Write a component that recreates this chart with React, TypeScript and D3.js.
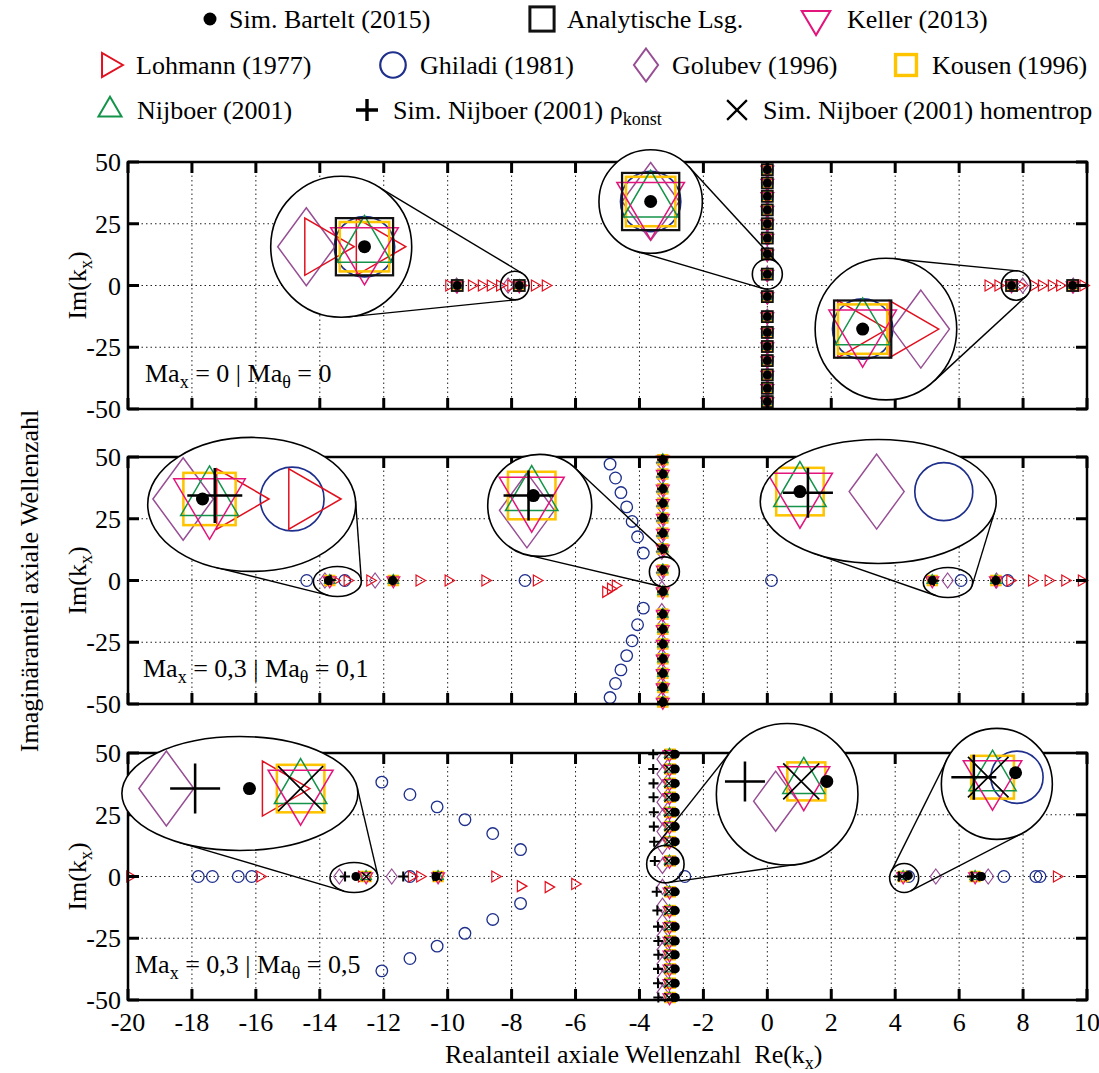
import * as React from 'react';
import * as d3 from 'd3';

const W = 1099;
const H = 1073;
const xTicks = [-20, -18, -16, -14, -12, -10, -8, -6, -4, -2, 0, 2, 4, 6, 8, 10];
const yTicks = [-50, -25, 0, 25, 50];
const machLabels = [['0', '0'], ['0,3', '0,1'], ['0,3', '0,5']];

// ---- panel 1: Ma_x = 0 | Ma_theta = 0
const p1ColRe = 0;
const p1ColIm = [46.9, 41.5, 36.1, 30.6, 25.0, 19.2, 12.8, 4.6, -4.5, -12.6, -19.0, -24.7, -30.4, -36.2, -41.6, -47.0];
const p1AxisRe = [-9.70, -7.76, 7.64, 9.55];
const p1GolubevRe = [-9.72, -8.11, 7.99, 9.57];
const p1LohmannRe = [-9.96, -9.25, -8.94, -8.66, -8.37, -8.02, -7.71, -7.28, -6.94,
  6.91, 7.22, 7.59, 7.90, 8.32, 8.58, 8.89, 9.15, 9.88];

// ---- panel 2: Ma_x = 0,3 | Ma_theta = 0,1
const p2ColIm = [48.9, 43.1, 37.1, 31.3, 25.3, 19.2, 12.8, 4.3, -4.5, -13.6, -19.7, -25.7, -31.7, -37.6, -43.3, -49.2];
const p2GolubevColIm = [47.7, 41.9, 35.9, 30.1, 24.1, 18.0, 11.6, 3.1, -3.3, -12.4, -18.5, -24.5, -30.5, -36.4, -42.1, -48.0];
const p2BarteltRe = [-13.73, -11.72, 5.16, 7.15];
const p2AxisRe = [-13.69, -11.70, 5.16, 7.15];
const p2GolubevRe = [-13.84, -12.27, 5.64, 7.17];
const p2SimRho = [[-13.66, 0.25], [-11.70, 0], [5.21, -0.1], [7.13, 0]];
const p2GhiladiRe = [-14.41, -13.22, -7.58, 0.13, 6.06, 7.52];
const p2GhiladiArc = [
  [-4.92, 47.1], [-4.75, 41.5], [-4.58, 35.6], [-4.40, 29.8], [-4.23, 23.9], [-4.06, 17.7], [-3.88, 11.1],
  [-3.88, -11.2], [-4.06, -17.9], [-4.23, -24.4], [-4.40, -30.4], [-4.58, -36.2], [-4.75, -41.7], [-4.92, -47.4],
];
const p2Lohmann = [
  [-13.55, 0], [-13.14, 0], [-12.43, 0], [-10.89, 0], [-9.98, 0], [-8.83, 0], [-7.22, 0],
  [-5.05, -4.6], [-4.90, -3.3], [-4.75, -2.0], [7.59, 0], [8.27, 0], [8.79, 0], [9.31, 0], [9.83, 0],
];

// ---- panel 3: Ma_x = 0,3 | Ma_theta = 0,5
const p3ColIm = [49.5, 43.5, 37.7, 32.1, 26.0, 20.2, 14.1, 6.3, -6.2, -13.8, -20.3, -26.1, -31.7, -37.4, -43.2, -49.0];
const p3GolubevColIm = [47.5, 41.5, 35.7, 30.1, 24.0, 18.2, 12.1, 4.3, -4.2, -11.8, -18.3, -24.1, -29.7, -35.4, -41.2, -47.0];
const p3Bartelt = [[-12.87, 0], [-10.37, 0], [4.41, 0.4], [6.70, 0]];
const p3AxisRe = [-12.55, -10.30, 4.25, 6.50];
const p3SimHomRe = [-12.55, -10.32, 4.22, 6.50];
const p3SimRho = [[-13.21, 0], [-11.39, 0], [4.12, 0], [6.40, 0]];
const p3SimRhoCol = [
  [-3.57, 49.5], [-3.57, 43.5], [-3.56, 37.7], [-3.56, 32.1], [-3.55, 26.0], [-3.55, 20.2], [-3.54, 14.1], [-3.52, 6.3],
  [-3.46, -6.2], [-3.44, -13.8], [-3.42, -20.3], [-3.41, -26.1], [-3.41, -31.7], [-3.42, -37.4], [-3.42, -43.2], [-3.41, -49.0],
];
const p3GolubevRe = [-13.39, -11.75, 5.27, 6.91];
const p3GhiladiRe = [-17.80, -17.36, -16.55, -16.13, -11.18, -2.58, 4.42, 7.40, 8.40, 8.53];
const p3GhiladiArc = [
  [-12.06, 38.2], [-11.18, 33.2], [-10.33, 28.2], [-9.46, 23.0], [-8.59, 17.4], [-7.72, 10.9],
  [-7.72, -10.9], [-8.59, -17.4], [-9.46, -23.0], [-10.33, -28.2], [-11.18, -33.2], [-12.06, -38.2],
];
const p3Lohmann = [
  [-19.94, 0], [-15.87, 0], [-12.69, 0], [-11.13, 0], [-10.87, 0], [-8.52, 0],
  [-7.72, -3.9], [-6.85, -4.3], [-6.02, -3.0], [9.05, 0],
];

const col = (re: number, ims: number[]) => ims.map(im => [re, im]);
const axis = (res: number[]) => res.map(re => [re, 0]);

const panels: Record<string, number[][]>[] = [
  {
    ghiladi: [...axis(p1AxisRe), ...col(p1ColRe, p1ColIm)],
    golubev: [...axis(p1GolubevRe), ...col(p1ColRe, p1ColIm)],
    lohmann: axis(p1LohmannRe),
    kousen: [...axis(p1AxisRe), ...col(p1ColRe, p1ColIm)],
    nijboer: [...axis(p1AxisRe), ...col(p1ColRe, p1ColIm)],
    keller: [...axis(p1AxisRe), ...col(p1ColRe, p1ColIm)],
    analytic: [...axis(p1AxisRe), ...col(p1ColRe, p1ColIm)],
    bartelt: [...axis(p1AxisRe), ...col(p1ColRe, p1ColIm)],
  },
  {
    ghiladi: [...axis(p2GhiladiRe), ...p2GhiladiArc],
    golubev: [...axis(p2GolubevRe), ...col(-3.30, p2GolubevColIm)],
    lohmann: p2Lohmann,
    kousen: [...axis(p2AxisRe), ...col(-3.27, p2ColIm)],
    nijboer: [...axis(p2AxisRe), ...col(-3.27, p2ColIm)],
    keller: [...axis(p2AxisRe), ...col(-3.27, p2ColIm)],
    simRho: [...p2SimRho, ...col(-3.29, p2ColIm)],
    bartelt: [...axis(p2BarteltRe), ...col(-3.26, p2ColIm)],
  },
  {
    ghiladi: [...axis(p3GhiladiRe), ...p3GhiladiArc],
    golubev: [...axis(p3GolubevRe), ...col(-3.28, p3GolubevColIm)],
    lohmann: p3Lohmann,
    kousen: [...axis(p3AxisRe), ...col(-3.04, p3ColIm)],
    nijboer: [...axis(p3AxisRe), ...col(-3.06, p3ColIm)],
    keller: [...axis(p3AxisRe), ...col(-3.06, p3ColIm)],
    simRho: [...p3SimRho, ...p3SimRhoCol],
    simHom: [...axis(p3SimHomRe), ...col(-3.08, p3ColIm)],
    bartelt: [...p3Bartelt, ...col(-2.88, p3ColIm)],
  },
];

// marker styles
const sty: Record<string, { shape: string; color: string; w: number; h: number; sw: number }> = {
  bartelt: { shape: 'dot', color: '#000', w: 9, h: 9, sw: 1 },
  analytic: { shape: 'square', color: '#111', w: 11, h: 11, sw: 1.5 },
  keller: { shape: 'tridown', color: '#e3157c', w: 13, h: 11, sw: 1 },
  lohmann: { shape: 'triright', color: '#e2101e', w: 9.5, h: 11, sw: 1 },
  ghiladi: { shape: 'circle', color: '#1e2f8c', w: 11.6, h: 11.6, sw: 1.1 },
  golubev: { shape: 'diamond', color: '#974e94', w: 11, h: 15, sw: 1 },
  kousen: { shape: 'square', color: '#ffc400', w: 9.5, h: 9.5, sw: 1.7 },
  nijboer: { shape: 'triup', color: '#14944a', w: 10.5, h: 9, sw: 1 },
  simRho: { shape: 'plus', color: '#000', w: 10, h: 10, sw: 1.7 },
  simHom: { shape: 'cross', color: '#000', w: 9, h: 9, sw: 1.1 },
};
const drawOrder = ['ghiladi', 'golubev', 'lohmann', 'kousen', 'nijboer', 'keller', 'analytic', 'simRho', 'simHom', 'bartelt'];

const legendRows = [
  [['bartelt', 'Sim. Bartelt (2015)'], ['analytic', 'Analytische Lsg.'], ['keller', 'Keller (2013)']],
  [['lohmann', 'Lohmann (1977)'], ['ghiladi', 'Ghiladi (1981)'], ['golubev', 'Golubev (1996)'], ['kousen', 'Kousen (1996)']],
  [['nijboer', 'Nijboer (2001)'], ['simRho', 'Sim. Nijboer (2001) ρ'], ['simHom', 'Sim. Nijboer (2001) homentrop']],
];
const legendMarkerX = [[210, 542, 816], [109, 393, 646, 906], [110, 367, 737]];
const legendTextX = [[229, 567, 847], [136, 420, 672, 932], [137, 393, 763]];
const legendRowY = [19, 65, 110];

// zoom insets: centre and focus in data units, radii in px
const insets = [
  { p: 0, c: [-13.33, 15.7], r: [70.5, 70.5], f: [-7.90, 0], fr: [14.3, 14.3], m: 5.2 },
  { p: 0, c: [-3.65, 34.0], r: [51.7, 51.7], f: [0, 4.6], fr: [15, 15], m: 5.2 },
  { p: 0, c: [3.71, -17.65], r: [70.8, 70.8], f: [7.78, 0], fr: [14.7, 14.7], m: 5.2 },
  { p: 1, c: [-16.13, 30.8], r: [104, 67], f: [-13.45, -0.4], fr: [24, 15], m: 5.5 },
  { p: 1, c: [-7.12, 30.4], r: [52, 51], f: [-3.22, 3.5], fr: [15, 15], m: 5 },
  { p: 1, c: [3.47, 32], r: [118, 62], f: [5.65, -0.8], fr: [24.7, 15], m: 5 },
  { p: 2, c: [-16.5, 33.6], r: [118, 57], f: [-12.93, -0.4], fr: [24, 15], m: 5 },
  { p: 2, c: [0.62, 33.3], r: [70.8, 70.8], f: [-3.19, 5.0], fr: [18.7, 18.7], m: 4 },
  { p: 2, c: [7.18, 37.5], r: [55.5, 55.5], f: [4.28, -0.6], fr: [14.5, 14.5], m: 4.5 },
];

const panelTop = [162, 457, 753];
const panelH = 247;
const SUB = 6;

function Marker({ kind, x, y, k = 1, sw = 1.2, dotR = 4.5 }: any) {
  const s = sty[kind];
  const w = s.w * k;
  const h = s.h * k;
  const common = { fill: 'none', stroke: s.color, strokeWidth: sw * s.sw };
  switch (s.shape) {
    case 'dot':
      return <circle cx={x} cy={y} r={dotR} fill="#000" />;
    case 'square':
      return <rect x={x - w / 2} y={y - h / 2} width={w} height={h} {...common} />;
    case 'circle':
      return <circle cx={x} cy={y} r={w / 2} {...common} />;
    case 'triup':
      return <path d={`M${x},${y - 2 * h / 3}L${x + w / 2},${y + h / 3}L${x - w / 2},${y + h / 3}Z`} {...common} />;
    case 'tridown':
      return <path d={`M${x},${y + 2 * h / 3}L${x + w / 2},${y - h / 3}L${x - w / 2},${y - h / 3}Z`} {...common} />;
    case 'triright':
      return <path d={`M${x + 2 * w / 3},${y}L${x - w / 3},${y - h / 2}L${x - w / 3},${y + h / 2}Z`} {...common} />;
    case 'diamond':
      return <path d={`M${x},${y - h / 2}L${x + w / 2},${y}L${x},${y + h / 2}L${x - w / 2},${y}Z`} {...common} />;
    case 'plus':
      return <path d={`M${x - w / 2},${y}H${x + w / 2}M${x},${y - h / 2}V${y + h / 2}`} {...common} />;
    default:
      return <path d={`M${x - w / 2},${y - h / 2}L${x + w / 2},${y + h / 2}M${x + w / 2},${y - h / 2}L${x - w / 2},${y + h / 2}`} {...common} />;
  }
}

// outer common tangents of two ellipses via convex hull
function tangents(a: number[], b: number[]) {
  const ring = (cx: number, cy: number, rx: number, ry: number) =>
    d3.range(360).map(i => [cx + rx * Math.cos(i * Math.PI / 180), cy + ry * Math.sin(i * Math.PI / 180)] as [number, number]);
  const A = ring(a[0], a[1], a[2], a[3]);
  const B = ring(b[0], b[1], b[2], b[3]);
  const inA = new Set(A);
  const hull = d3.polygonHull([...A, ...B]) || [];
  const segs: [number, number][][] = [];
  for (let i = 0; i < hull.length; i++) {
    const p = hull[i];
    const q = hull[(i + 1) % hull.length];
    if (inA.has(p) !== inA.has(q)) segs.push([p, q]);
  }
  return segs;
}

export default function App() {
  const x = d3.scaleLinear().domain([-20, 10]).range([128, 1087]);
  const ys = panelTop.map(t => d3.scaleLinear().domain([-50, 50]).range([t + panelH, t]));

  return (
    <svg width={W} height={H} fontFamily='"Liberation Serif", "Times New Roman", serif' fontSize={26} style={{ display: 'block' }}>
      <style>{'body{margin:0}'}</style>
      <rect width={W} height={H} fill="#fff" />

      {/* legend */}
      {legendRows.map((row, ri) => row.map(([kind, label], i) => (
        <g key={kind}>
          <Marker kind={kind} x={legendMarkerX[ri][i]} y={legendRowY[ri]} k={2.2} sw={2} dotR={6.5} />
          <text x={legendTextX[ri][i]} y={legendRowY[ri] + 8.5}>
            {label}
            {kind === 'simRho' ? <tspan dy={SUB} fontSize={18}>konst</tspan> : null}
          </text>
        </g>
      )))}

      {panels.map((series, pi) => {
        const y = ys[pi];
        const top = panelTop[pi];
        return (
          <g key={pi}>
            {/* grid */}
            {xTicks.slice(1, -1).map(t => (
              <line key={'gx' + t} x1={x(t)} x2={x(t)} y1={top} y2={top + panelH} stroke="#222" strokeWidth={1} strokeDasharray="1.5 3" />
            ))}
            {[-25, 0, 25].map(t => (
              <line key={'gy' + t} x1={x(-20)} x2={x(10)} y1={y(t)} y2={y(t)} stroke="#222" strokeWidth={1} strokeDasharray="1.5 3" />
            ))}
            {/* data */}
            {drawOrder.filter(k => series[k]).map(k => series[k].map((d, i) => (
              <Marker key={k + i} kind={k} x={x(d[0])} y={y(d[1])} />
            )))}
            {/* frame and ticks */}
            <rect x={x(-20)} y={top} width={x(10) - x(-20)} height={panelH} fill="none" stroke="#000" strokeWidth={2.5} />
            {xTicks.map(t => (
              <g key={'tx' + t} stroke="#000" strokeWidth={3}>
                <line x1={x(t)} x2={x(t)} y1={top} y2={top + 11} />
                <line x1={x(t)} x2={x(t)} y1={top + panelH} y2={top + panelH - 11} />
              </g>
            ))}
            {yTicks.map(t => (
              <g key={'ty' + t}>
                <line x1={x(-20)} x2={x(-20) + 11} y1={y(t)} y2={y(t)} stroke="#000" strokeWidth={3} />
                <line x1={x(10)} x2={x(10) - 11} y1={y(t)} y2={y(t)} stroke="#000" strokeWidth={3} />
                <text x={121} y={y(t) + 9} textAnchor="end">{t}</text>
              </g>
            ))}
            <text transform={`translate(86,${top + panelH / 2}) rotate(-90)`} textAnchor="middle">
              Im(k<tspan dy={SUB} fontSize={18}>x</tspan><tspan dy={-SUB}>)</tspan>
            </text>
            <text x={[145, 143, 135][pi]} y={top + 220}>
              Ma<tspan dy={SUB} fontSize={18}>x</tspan>
              <tspan dy={-SUB}>{` = ${machLabels[pi][0]} | Ma`}</tspan>
              <tspan dy={SUB} fontSize={18}>θ</tspan>
              <tspan dy={-SUB}>{` = ${machLabels[pi][1]}`}</tspan>
            </text>
          </g>
        );
      })}

      {/* insets */}
      {insets.map((ins, ii) => {
        const y = ys[ins.p];
        const series = panels[ins.p];
        const cx = x(ins.c[0]);
        const cy = y(ins.c[1]);
        const fx = x(ins.f[0]);
        const fy = y(ins.f[1]);
        const segs = tangents([cx, cy, ins.r[0], ins.r[1]], [fx, fy, ins.fr[0], ins.fr[1]]);
        return (
          <g key={'in' + ii}>
            <defs>
              <clipPath id={'clip' + ii}>
                <ellipse cx={cx} cy={cy} rx={ins.r[0]} ry={ins.r[1]} />
              </clipPath>
            </defs>
            {segs.map((s, si) => (
              <line key={si} x1={s[0][0]} y1={s[0][1]} x2={s[1][0]} y2={s[1][1]} stroke="#000" strokeWidth={1.4} />
            ))}
            <ellipse cx={fx} cy={fy} rx={ins.fr[0]} ry={ins.fr[1]} fill="none" stroke="#000" strokeWidth={1.6} />
            <ellipse cx={cx} cy={cy} rx={ins.r[0]} ry={ins.r[1]} fill="#fff" />
            <g clipPath={`url(#clip${ii})`}>
              {drawOrder.filter(k => series[k]).map(k => series[k].map((d, i) => {
                const px = cx + (x(d[0]) - fx) * ins.m;
                const py = cy + (y(d[1]) - fy) * ins.m;
                const e = ((px - cx) / ins.r[0]) ** 2 + ((py - cy) / ins.r[1]) ** 2;
                if (e > 1) return null;
                return <Marker key={k + i} kind={k} x={px} y={py} k={ins.m} sw={1.5} dotR={6.5} />;
              }))}
            </g>
            <ellipse cx={cx} cy={cy} rx={ins.r[0]} ry={ins.r[1]} fill="none" stroke="#000" strokeWidth={1.6} />
          </g>
        );
      })}

      {/* axes labels */}
      {xTicks.map(t => (
        <text key={'xl' + t} x={x(t)} y={1031} textAnchor="middle">{t}</text>
      ))}
      <text x={445} y={1063} style={{ whiteSpace: 'pre' }}>
        {'Realanteil axiale Wellenzahl  Re(k'}<tspan dy={SUB} fontSize={18}>x</tspan><tspan dy={-SUB}>)</tspan>
      </text>
      <text transform="translate(38,581) rotate(-90)" textAnchor="middle">Imaginäranteil axiale Wellenzahl</text>
    </svg>
  );
}
